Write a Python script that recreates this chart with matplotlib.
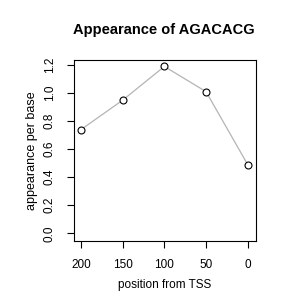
import matplotlib
matplotlib.use("Agg")
import matplotlib.pyplot as plt

# data
positions = [200, 150, 100, 50, 0]
appearance = [0.74, 0.95, 1.19, 1.01, 0.49]
x_ticks = [200, 150, 100, 50, 0]
y_ticks = [0.0, 0.2, 0.4, 0.6, 0.8, 1.0, 1.2]

plt.rcParams['font.family'] = ['Liberation Sans', 'DejaVu Sans']

fig = plt.figure(figsize=(3, 3), dpi=100)
ax = fig.add_axes([0.2467, 0.1967, 0.6067, 0.6033])

ax.plot(positions, appearance, color='#b4b4b4', lw=0.9, zorder=1)
ax.plot(positions, appearance, 'o', ms=5, mfc='white', mec='black', mew=0.8, zorder=2)

ax.set_xlim(208.5, -10)
ax.set_ylim(-0.055, 1.236)
ax.set_xticks(x_ticks)
ax.set_xticklabels([str(t) for t in x_ticks])
ax.set_yticks(y_ticks)
ax.set_yticklabels([f"{t:.1f}" for t in y_ticks], rotation=90, va='center')
ax.tick_params(direction='out', length=5, width=0.8, labelsize=8.5, pad=8)

for s in ax.spines.values():
    s.set_linewidth(0.8)

ax.set_xlabel('position from TSS', fontsize=8.5, labelpad=6)
ax.set_ylabel('appearance per base', fontsize=9, labelpad=4)
fig.text(0.545, 0.9, 'Appearance of AGACACG', ha='center', va='center',
         fontsize=10.5, fontweight='bold')

fig.savefig('out.png', dpi=100, facecolor='white')
